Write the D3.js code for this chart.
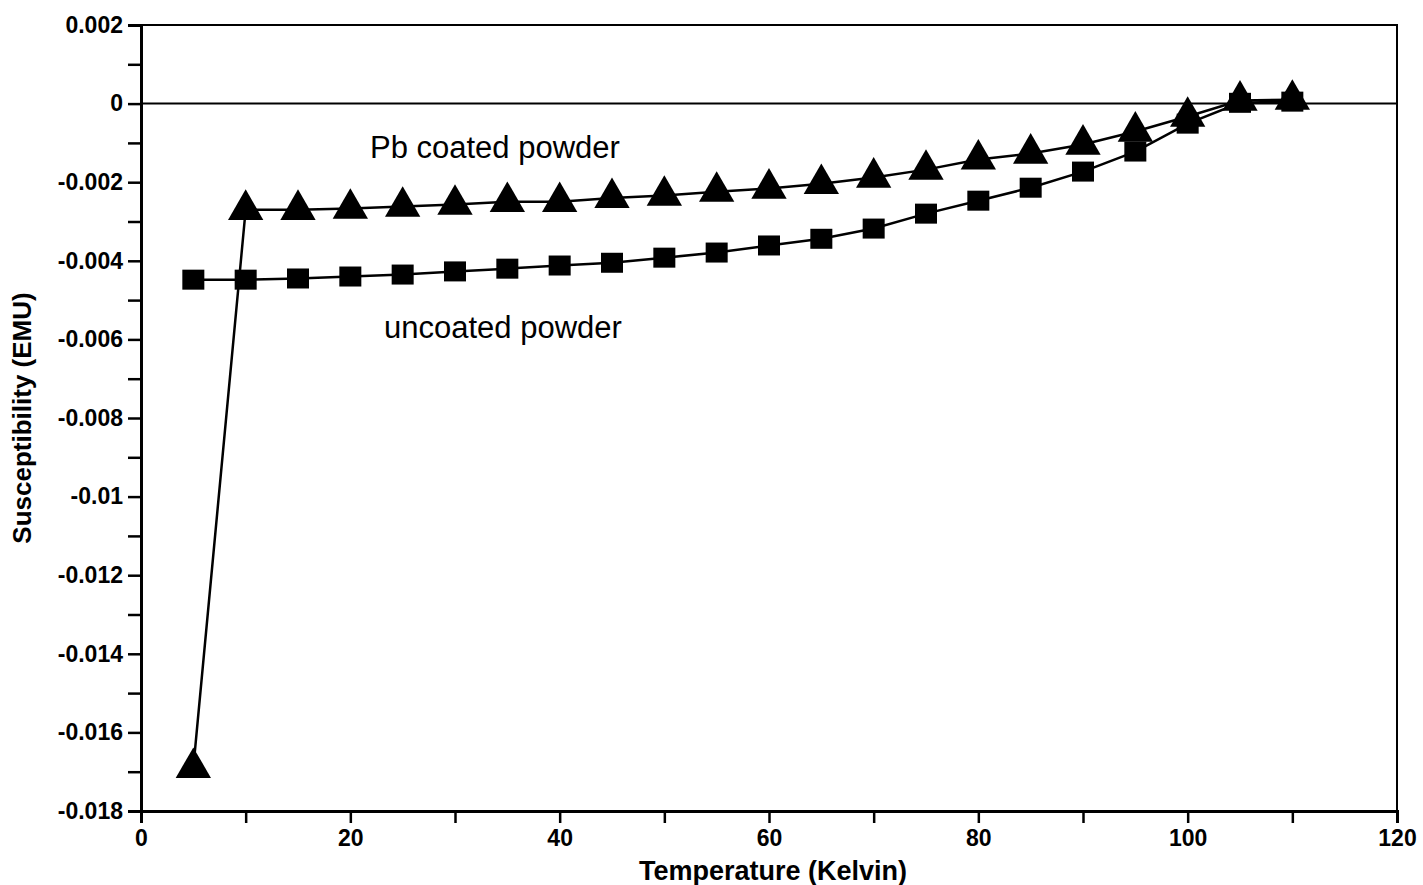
<!DOCTYPE html>
<html>
<head>
<meta charset="utf-8">
<script src="https://cdn.jsdelivr.net/npm/d3@7"></script>
<style>
  html, body { margin: 0; padding: 0; background: #fff; }
  svg { display: block; }
  text { font-family: "Liberation Sans", Arial, sans-serif; fill: #000; }
</style>
</head>
<body>
<svg id="chart" width="1423" height="885"></svg>
<script>
// Temperature (K) at which each susceptibility value was measured
const temperature = [5, 10, 15, 20, 25, 30, 35, 40, 45, 50, 55, 60, 65, 70, 75, 80, 85, 90, 95, 100, 105, 110];

// Pb coated powder (triangles)
const coated = [-0.0169, -0.0027, -0.0027, -0.00267, -0.00262, -0.00257, -0.0025, -0.0025, -0.0024, -0.00234,
  -0.00224, -0.00216, -0.00204, -0.00188, -0.00168, -0.00142, -0.00127, -0.00104, -0.00071, -0.00033, 0.00008, 0.0001];

// uncoated powder (squares)
const uncoated = [-0.00448, -0.00448, -0.00445, -0.0044, -0.00435, -0.00427, -0.0042, -0.00412, -0.00405, -0.00392,
  -0.00379, -0.00361, -0.00344, -0.00318, -0.0028, -0.00247, -0.00214, -0.00173, -0.00122, -0.00051, 0.00002, 0.00005];

const xTicks = [0, 20, 40, 60, 80, 100, 120];
const yTicks = [0.002, 0, -0.002, -0.004, -0.006, -0.008, -0.01, -0.012, -0.014, -0.016, -0.018];
const yTickLabels = ["0.002", "0", "-0.002", "-0.004", "-0.006", "-0.008", "-0.01", "-0.012", "-0.014", "-0.016", "-0.018"];

const svg = d3.select("#chart");
const plotL = 141, plotR = 1397, plotT = 25, plotB = 811;

const x = d3.scaleLinear().domain([0, 120]).range([plotL, plotR]);
const y = d3.scaleLinear().domain([-0.018, 0.002]).range([plotB, plotT]);

// frame
svg.append("rect")
  .attr("x", plotL).attr("y", plotT)
  .attr("width", plotR - plotL).attr("height", plotB - plotT)
  .attr("fill", "none").attr("stroke", "#000").attr("stroke-width", 2);

// zero line
svg.append("line")
  .attr("x1", plotL).attr("x2", plotR)
  .attr("y1", y(0)).attr("y2", y(0))
  .attr("stroke", "#000").attr("stroke-width", 2);

// x axis: labelled ticks every 20, minor ticks between
const xAxis = svg.append("g").attr("transform", `translate(0,${plotB})`);
xAxis.call(d3.axisBottom(x).tickValues(d3.range(0, 121, 10)).tickSize(12)
  .tickFormat(d => xTicks.includes(d) ? d : ""));
xAxis.select(".domain").attr("stroke-width", 3);
xAxis.selectAll(".tick line").attr("stroke-width", 2.5);
xAxis.selectAll(".tick text")
  .attr("dy", "0.35em")
  .attr("y", 27)
  .style("font-size", "23px").style("font-weight", "bold")
  .style("font-family", "'Liberation Sans', Arial, sans-serif");

// y axis: labelled ticks every 0.002, minor ticks between
const yAxis = svg.append("g").attr("transform", `translate(${plotL},0)`);
const yVals = d3.range(0, 21).map(i => +(-0.018 + i * 0.001).toFixed(4));
yAxis.call(d3.axisLeft(y).tickValues(yVals).tickSize(13)
  .tickFormat(d => {
    const i = yTicks.findIndex(t => Math.abs(t - d) < 1e-9);
    return i >= 0 ? yTickLabels[i] : "";
  }));
yAxis.select(".domain").attr("stroke-width", 3);
yAxis.selectAll(".tick line").attr("stroke-width", 2.5);
yAxis.selectAll(".tick text")
  .attr("x", -18)
  .style("font-size", "23px").style("font-weight", "bold")
  .style("font-family", "'Liberation Sans', Arial, sans-serif");

// axis titles
svg.append("text")
  .attr("x", 773).attr("y", 880)
  .attr("text-anchor", "middle")
  .style("font-size", "27px").style("font-weight", "bold")
  .text("Temperature (Kelvin)");

svg.append("text")
  .attr("transform", `translate(31,418) rotate(-90)`)
  .attr("text-anchor", "middle")
  .style("font-size", "26px").style("font-weight", "bold")
  .text("Susceptibility (EMU)");

// series lines
const line = d3.line().x(d => x(d[0])).y(d => y(d[1]));
const coatedPts = temperature.map((t, i) => [t, coated[i]]);
const uncoatedPts = temperature.map((t, i) => [t, uncoated[i]]);

svg.append("path").datum(uncoatedPts).attr("d", line)
  .attr("fill", "none").attr("stroke", "#000").attr("stroke-width", 2.5);
svg.append("path").datum(coatedPts).attr("d", line)
  .attr("fill", "none").attr("stroke", "#000").attr("stroke-width", 2.5);

// square markers
svg.append("g").selectAll("rect").data(uncoatedPts).join("rect")
  .attr("x", d => x(d[0]) - 11).attr("y", d => y(d[1]) - 10)
  .attr("width", 22).attr("height", 20).attr("fill", "#000");

// triangle markers
const tri = d3.symbol().type(d3.symbolTriangle).size(540);
svg.append("g").selectAll("path").data(coatedPts).join("path")
  .attr("transform", d => `translate(${x(d[0])},${y(d[1])})`)
  .attr("d", tri).attr("fill", "#000");

// series labels
svg.append("text").attr("x", 370).attr("y", 158)
  .style("font-size", "31px").text("Pb coated powder");
svg.append("text").attr("x", 384).attr("y", 338)
  .style("font-size", "31px").text("uncoated powder");
</script>
</body>
</html>
